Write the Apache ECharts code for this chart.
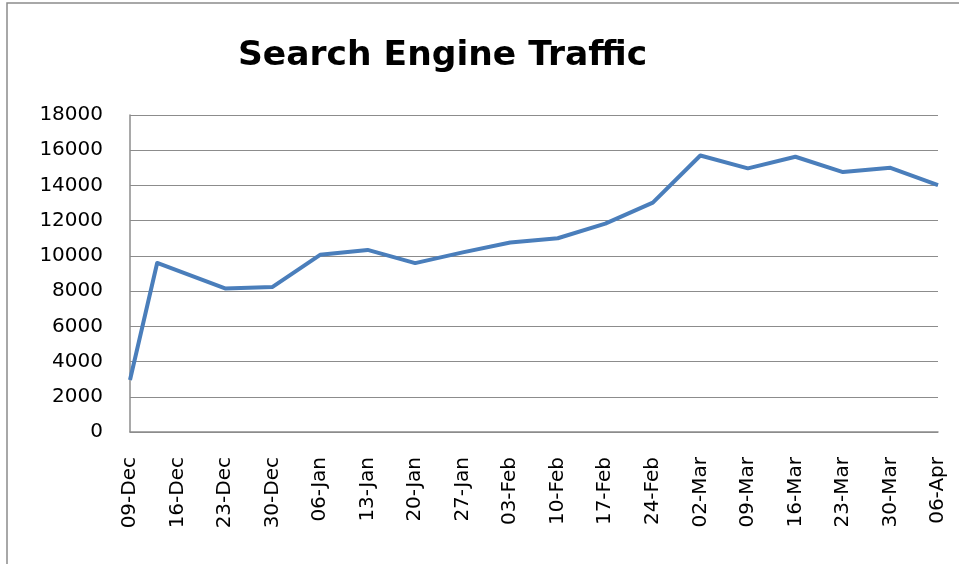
<!DOCTYPE html>
<html>
<head>
<meta charset="utf-8">
<script src="https://cdn.jsdelivr.net/npm/echarts@6/dist/echarts.min.js"></script>
<style>
html,body{margin:0;padding:0;background:#fff;}
#chart{width:959px;height:564px;}
</style>
</head>
<body>
<div id="chart"></div>
<script>
// Dates of the data points (irregular first gap) and their values
const pointDates = ['2007-12-09','2007-12-13','2007-12-23','2007-12-30','2008-01-06','2008-01-13','2008-01-20','2008-01-27','2008-02-03','2008-02-10','2008-02-17','2008-02-24','2008-03-02','2008-03-09','2008-03-16','2008-03-23','2008-03-30','2008-04-06'];
const trafficValues = [2950, 9600, 8150, 8240, 10060, 10340, 9590, 10200, 10760, 11000, 11830, 13020, 15700, 14970, 15630, 14760, 15000, 14020];
// Weekly tick labels
const tickLabels = ['09-Dec','16-Dec','23-Dec','30-Dec','06-Jan','13-Jan','20-Jan','27-Jan','03-Feb','10-Feb','17-Feb','24-Feb','02-Mar','09-Mar','16-Mar','23-Mar','30-Mar','06-Apr'];
const yTicks = [0,2000,4000,6000,8000,10000,12000,14000,16000,18000];

const DAY = 86400000;
const start = Date.parse(pointDates[0] + 'T00:00:00Z');
const seriesData = pointDates.map((d, i) => [Math.round((Date.parse(d + 'T00:00:00Z') - start) / DAY), trafficValues[i]]);
const lastDay = (tickLabels.length - 1) * 7;

const font = '"DejaVu Sans", sans-serif';
const chart = echarts.init(document.getElementById('chart'));
chart.setOption({
  animation: false,
  backgroundColor: '#ffffff',
  title: {
    text: 'Search Engine Traffic',
    left: 233,
    top: 34,
    textStyle: {fontFamily: font, fontWeight: 'bold', fontSize: 34.5, color: '#000'}
  },
  graphic: [{
    type: 'rect', shape: {x: 7, y: 3, width: 1200, height: 1200},
    style: {fill: 'none', stroke: '#8c8c8c', lineWidth: 1.5}, silent: true, z: -1
  }],
  grid: {left: 130, right: 21, top: 115, bottom: 132, containLabel: false},
  xAxis: {
    type: 'value',
    min: 0, max: lastDay, interval: 7,
    axisLine: {show: true, onZero: false, lineStyle: {color: '#8c8c8c', width: 1.5}},
    axisTick: {show: false},
    splitLine: {show: false},
    axisLabel: {
      rotate: 90, margin: 25, color: '#000', fontFamily: font, fontSize: 20,
      showMinLabel: true, showMaxLabel: true, hideOverlap: false,
      formatter: v => tickLabels[Math.round(v / 7)] || ''
    }
  },
  yAxis: {
    type: 'value',
    min: yTicks[0], max: yTicks[yTicks.length - 1], interval: 2000,
    axisLine: {show: true, lineStyle: {color: '#8c8c8c', width: 1.5}},
    axisTick: {show: false},
    splitLine: {show: true, lineStyle: {color: '#8c8c8c', width: 1}},
    axisLabel: {color: '#000', fontFamily: font, fontSize: 20, margin: 27, formatter: v => String(v)}
  },
  series: [{
    type: 'line',
    data: seriesData,
    showSymbol: false,
    symbol: 'none',
    lineStyle: {color: '#4a7ebb', width: 4, join: 'round'},
    itemStyle: {color: '#4a7ebb'}
  }]
});
</script>
</body>
</html>
